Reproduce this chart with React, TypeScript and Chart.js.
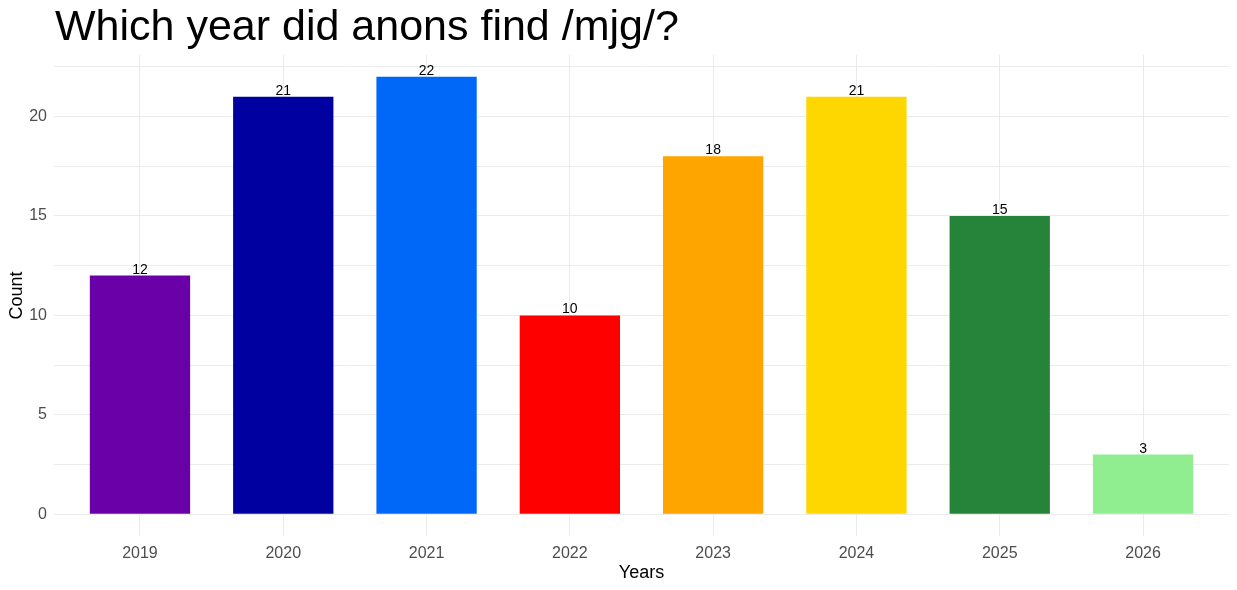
import { useEffect, useRef } from 'react';
import { Chart, registerables } from 'chart.js';

Chart.register(...registerables);

const chartTitle = 'Which year did anons find /mjg/?';
const years = ['2019', '2020', '2021', '2022', '2023', '2024', '2025', '2026'];
const counts = [12, 21, 22, 10, 18, 21, 15, 3];
const barColors = ['#6a00a8', '#0000a0', '#0068f8', '#ff0000', '#ffa500', '#ffd700', '#25833a', '#90ee90'];
const yMajorTicks = [0, 5, 10, 15, 20];
const yMinorTicks = [2.5, 7.5, 12.5, 17.5, 22.5];

const FONT = '"Liberation Sans", Arial, sans-serif';

// title + value labels drawn on the canvas
const titlePlugin = {
  id: 'plotTitle',
  afterDraw(chart: Chart) {
    const { ctx, chartArea } = chart;
    ctx.save();
    ctx.font = `43px ${FONT}`;
    ctx.fillStyle = '#000000';
    ctx.textAlign = 'left';
    ctx.textBaseline = 'alphabetic';
    ctx.fillText(chartTitle, chartArea.left + 1, 40);
    ctx.restore();
  },
};

const barLabels = {
  id: 'barLabels',
  afterDatasetsDraw(chart: Chart) {
    const { ctx } = chart;
    const meta = chart.getDatasetMeta(0);
    ctx.save();
    ctx.font = `14px ${FONT}`;
    ctx.fillStyle = '#000000';
    ctx.textAlign = 'center';
    ctx.textBaseline = 'alphabetic';
    meta.data.forEach((bar: any, i: number) => {
      ctx.fillText(String(counts[i]), bar.x, bar.y - 2);
    });
    ctx.restore();
  },
};

const YearBarChart = () => {
  const chartRef = useRef<HTMLCanvasElement>(null);

  useEffect(() => {
    const ctx = chartRef.current?.getContext('2d');
    if (!ctx) return;

    const chartInstance = new Chart(ctx, {
      type: 'bar',
      data: {
        datasets: [
          {
            data: counts.map((c, i) => ({ x: i, y: c })),
            backgroundColor: barColors,
            borderWidth: 0,
            categoryPercentage: 1,
            barPercentage: 0.7,
          },
        ],
      },
      options: {
        animation: false,
        responsive: true,
        maintainAspectRatio: false,
        plugins: {
          legend: { display: false },
          tooltip: { enabled: false },
        },
        layout: {
          padding: { top: 55, right: 8, bottom: 0, left: 0 },
        },
        scales: {
          x: {
            type: 'linear',
            offset: false,
            min: -0.6,
            max: years.length - 1 + 0.6,
            afterBuildTicks: (scale: any) => {
              scale.ticks = years.map((_, i) => ({ value: i }));
            },
            afterFit: (scale: any) => {
              scale.height = 54;
            },
            ticks: {
              color: '#4d4d4d',
              font: { family: FONT, size: 16 },
              padding: 8,
              maxRotation: 0,
              callback: (value) => years[Number(value)] ?? '',
            },
            grid: { color: '#ebebeb', lineWidth: 1, drawTicks: false, offset: false },
            border: { display: false },
            title: {
              display: true,
              text: 'Years',
              color: '#000000',
              font: { family: FONT, size: 18 },
              padding: { top: 0, bottom: 6 },
            },
          },
          y: {
            min: -1.1,
            max: 23.1,
            afterBuildTicks: (scale: any) => {
              scale.ticks = [...yMajorTicks, ...yMinorTicks]
                .sort((a, b) => a - b)
                .map((v) => ({ value: v }));
            },
            afterFit: (scale: any) => {
              scale.width = 54;
            },
            ticks: {
              color: '#4d4d4d',
              font: { family: FONT, size: 16 },
              padding: 7,
              callback: (value) => (yMajorTicks.includes(Number(value)) ? String(value) : ''),
            },
            grid: { color: '#ebebeb', lineWidth: 1, drawTicks: false },
            border: { display: false },
            title: {
              display: true,
              text: 'Count',
              color: '#000000',
              font: { family: FONT, size: 18 },
              padding: { top: 6, bottom: 0 },
            },
          },
        },
      },
      plugins: [barLabels, titlePlugin],
    });

    return () => chartInstance.destroy();
  }, []);

  return (
    <div style={{ position: 'absolute', left: 0, top: 0, width: 1237, height: 590, background: '#ffffff' }}>
      <canvas ref={chartRef} />
    </div>
  );
};

export default function App() {
  return <YearBarChart />;
}
